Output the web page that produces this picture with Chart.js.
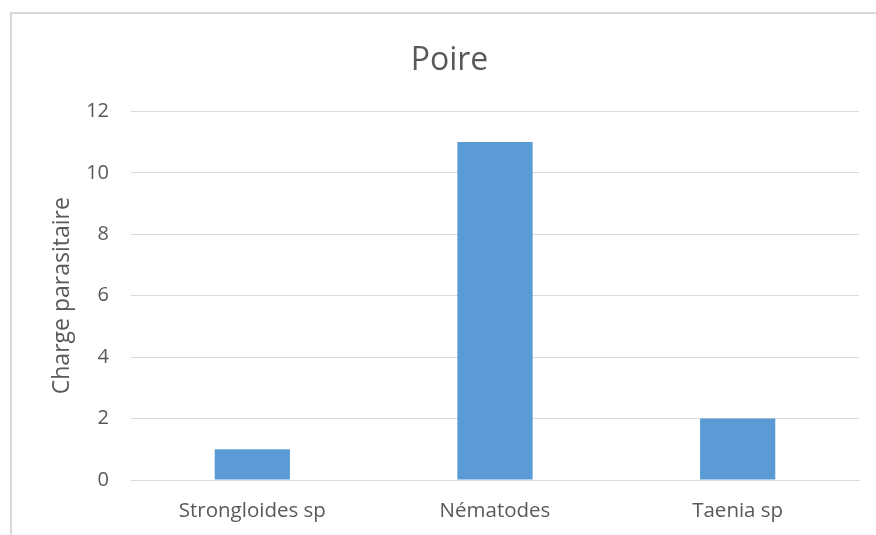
<!DOCTYPE html>
<html lang="fr">
<head>
    <meta charset="UTF-8">
    <title>Poire</title>
    <style>
        body {
            margin: 0;
            width: 876px;
            height: 535px;
            overflow: hidden;
            background: #fff;
            font-family: "Open Sans", sans-serif;
        }
        #frame {
            position: absolute;
            left: 10px;
            top: 12px;
            width: 900px;
            height: 540px;
            border: 2px solid #d9d9d9;
        }
        #chart {
            display: block;
        }
    </style>
</head>
<body>
    <div id="frame">
        <canvas id="chart" width="864" height="521" style="width:864px;height:521px"></canvas>
    </div>

    <script src="https://cdn.jsdelivr.net/npm/chart.js"></script>
    <script>
        // données
        const categories = ['Strongloides sp', 'Nématodes', 'Taenia sp'];
        const charge = [1, 11, 2];
        const yTicks = [0, 2, 4, 6, 8, 10, 12];

        const grey = '#595959';
        const font = 'Open Sans';

        // décale un peu le titre vers la droite, comme dans Excel
        const titleShift = {
            id: 'titleShift',
            afterLayout(chart) {
                const t = chart.titleBlock;
                if (t) { t.left += 14; t.right += 14; }
            }
        };

        const ctx = document.getElementById('chart').getContext('2d');
        new Chart(ctx, {
            type: 'bar',
            data: {
                labels: categories,
                datasets: [{
                    label: 'Charge parasitaire',
                    data: charge,
                    backgroundColor: '#5b9bd5',
                    borderWidth: 0,
                    categoryPercentage: 0.31,
                    barPercentage: 1
                }]
            },
            options: {
                responsive: false,
                animation: false,
                layout: { padding: { left: 0, right: 17, top: 0, bottom: 0 } },
                plugins: {
                    legend: { display: false },
                    tooltip: { enabled: false },
                    title: {
                        display: true,
                        text: 'Poire',
                        color: grey,
                        font: { family: font, size: 32, weight: 'normal' },
                        padding: { top: 28, bottom: 31 }
                    }
                },
                scales: {
                    x: {
                        grid: { display: false, drawTicks: false },
                        border: { color: '#d9d9d9', width: 1 },
                        ticks: {
                            color: grey,
                            font: { family: font, size: 20.5 },
                            padding: 19
                        },
                        afterFit: s => { s.height = 55; }
                    },
                    y: {
                        min: 0,
                        max: 12,
                        afterBuildTicks: s => { s.ticks = yTicks.map(v => ({ value: v })); },
                        grid: { color: '#d9d9d9', lineWidth: 1, drawTicks: false },
                        border: { display: false },
                        ticks: {
                            color: grey,
                            font: { family: font, size: 20 },
                            padding: 22
                        },
                        title: {
                            display: true,
                            text: 'Charge parasitaire',
                            color: grey,
                            font: { family: font, size: 23, weight: 'normal' },
                            padding: { top: 37, bottom: 0 }
                        },
                        afterFit: s => { s.width = 119; }
                    }
                }
            },
            plugins: [titleShift]
        });
    </script>
</body>
</html>
